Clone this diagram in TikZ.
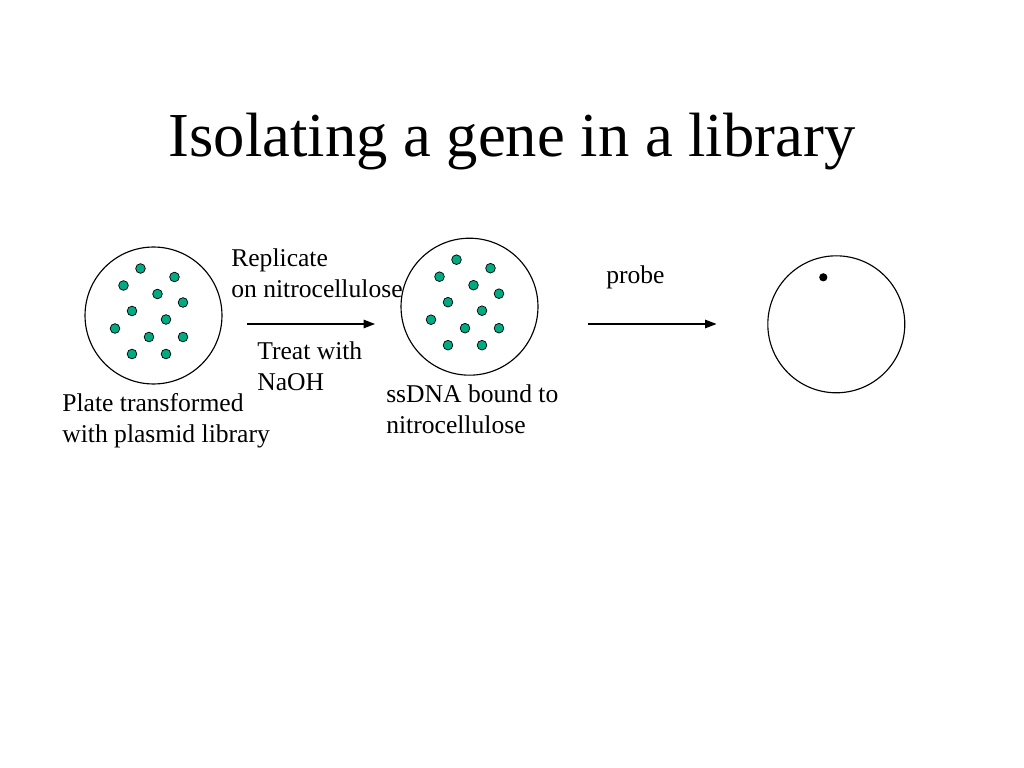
\documentclass[tikz,border=0pt]{standalone}
\usepackage{fontspec}
\setmainfont{Liberation Serif}
\usetikzlibrary{positioning,arrows.meta}
\definecolor{colonygreen}{RGB}{0,170,130}

\begin{document}
\begin{tikzpicture}[x=0.703125pt,y=-0.703125pt,
      plate/.style={circle,draw,line width=0.8pt,minimum size=96.3pt,inner sep=0pt},
      colony/.style={circle,draw,fill=colonygreen,line width=0.5pt,minimum size=6.8pt,inner sep=0pt},
      caption/.style={anchor=base west,inner sep=0pt,align=left,font=\fontsize{18}{21.6}\selectfont},
      steparrow/.style={-{Triangle[length=8pt,width=6pt]},line width=0.8pt}]
      \useasboundingbox (0,0) rectangle (1024,768);
      \node[font=\fontsize{44}{52}\selectfont,anchor=base,inner sep=0pt] (title) at (512,157) {Isolating a gene in a library};
      % plates
      \node[plate] (plate) at (153.5,315.5) {};
      \node[plate] (filter) at (469.5,306.7) {};
      \node[plate] (probed) at (836.3,324.3) {};
      % colonies, same pattern on plate and replica
      \foreach \p in {plate,filter}
        \foreach \dx/\dy [count=\i] in {-13/-47,21/-38.5,-30/-30,4/-21.5,29.5/-13,-21.5/-4.5,
                                         12.5/4,-38.5/13,-4.5/21.5,29.5/21.5,-21.5/38.5,12.5/38.5}
          {\node[colony] (\p\i) at ([shift={(\dx,\dy)}]\p) {};}
      \node[circle,fill,minimum size=5.8pt,inner sep=0pt] (hit) at (823.3,277.3) {};
      % arrows
      \coordinate (rs) at (247,324);
      \coordinate (re) at (375,324);
      \coordinate (ps) at (588,324);
      \coordinate (pe) at (716.5,324);
      \draw[steparrow] (rs) -- (re);
      \draw[steparrow] (ps) -- (pe);
      % texts (base = last line)
      \node[caption] (replicate) at (231,297.2) {Replicate\\on nitrocellulose};
      \node[caption] (treat) at (257,390.7) {Treat with\\NaOH};
      \node[caption] (platetext) at (62,442.2) {Plate transformed\\with plasmid library};
      \node[caption] (ssdna) at (386,433.4) {ssDNA bound to\\nitrocellulose};
      \node[caption] (probe) at (606,283.3) {probe};
\end{tikzpicture}
\end{document}
